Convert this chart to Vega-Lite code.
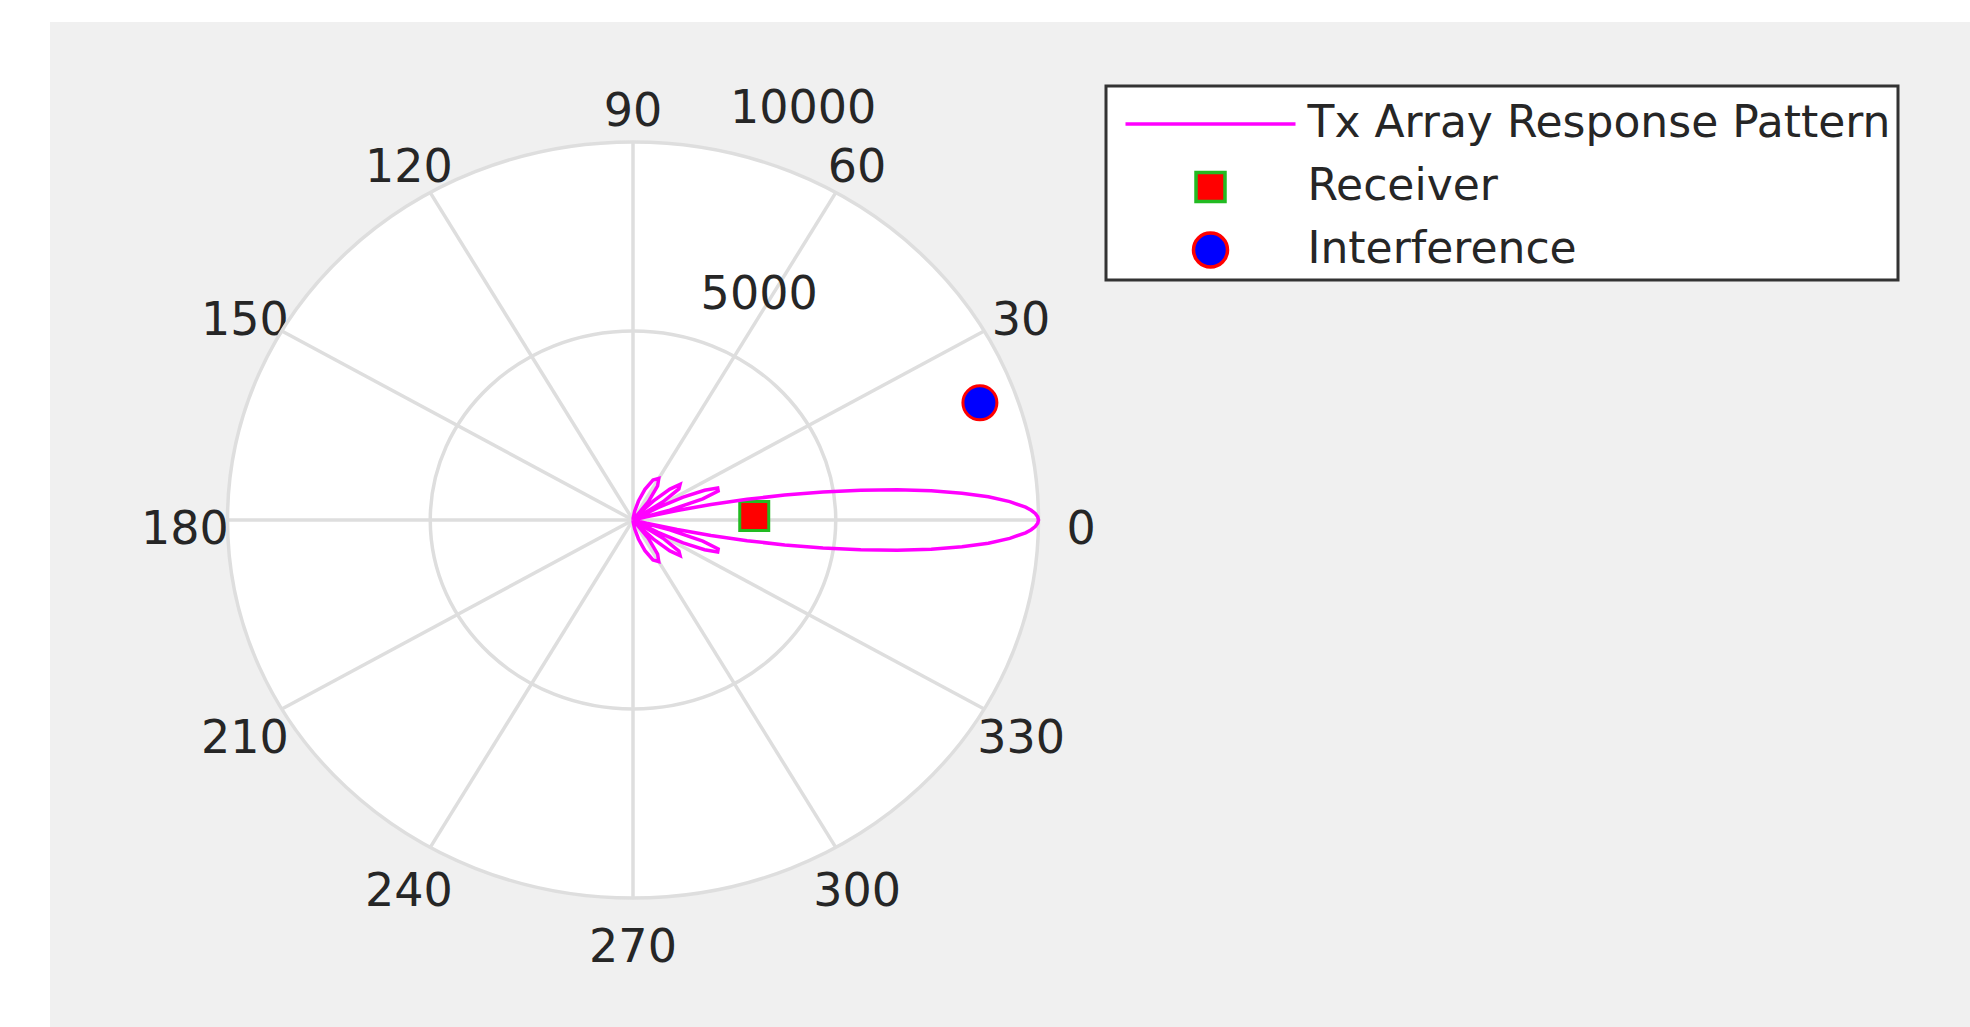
{
  "$schema": "https://vega.github.io/schema/vega-lite/v6.json",
  "width": 1920,
  "height": 1005,
  "autosize": {"type": "none"},
  "padding": {"left": 50, "top": 22, "right": 0, "bottom": 0},
  "background": "#ffffff",
  "view": {"fill": "#f0f0f0", "stroke": null},
  "config": {
    "font": "DejaVu Sans",
    "legend": {
      "orient": "none",
      "legendX": 1056,
      "legendY": 64,
      "padding": 7,
      "titleFontSize": 1,
      "titlePadding": 7,
      "titleColor": "#ffffff",
      "strokeColor": "#333333",
      "strokeWidth": 3,
      "fillColor": "#ffffff",
      "cornerRadius": 0,
      "labelFont": "DejaVu Sans",
      "labelFontSize": 44,
      "labelColor": "#262626",
      "labelLimit": 1000,
      "labelOffset": 10,
      "symbolOffset": 10.5,
      "clipHeight": 46,
      "rowPadding": 17,
      "symbolStrokeWidth": 3.5,
      "symbolOpacity": 1
    }
  },
  "datasets": {
    "pattern": [
      {"theta": -90, "x": 0, "y": 0},
      {"theta": -85, "x": 5, "y": -62},
      {"theta": -80, "x": 41, "y": -233},
      {"theta": -75, "x": 135, "y": -502},
      {"theta": -70, "x": 295, "y": -811},
      {"theta": -65, "x": 493, "y": -1058},
      {"theta": -60, "x": 635, "y": -1100},
      {"theta": -56, "x": 607, "y": -900},
      {"theta": -52, "x": 374, "y": -479},
      {"theta": -48.59, "x": 0, "y": 0},
      {"theta": -47, "x": 217, "y": -233},
      {"theta": -45, "x": 506, "y": -506},
      {"theta": -42, "x": 910, "y": -819},
      {"theta": -39, "x": 1161, "y": -940},
      {"theta": -36, "x": 1132, "y": -822},
      {"theta": -33, "x": 739, "y": -480},
      {"theta": -30, "x": 0, "y": 0},
      {"theta": -28, "x": 615, "y": -327},
      {"theta": -26, "x": 1237, "y": -603},
      {"theta": -24, "x": 1765, "y": -786},
      {"theta": -22, "x": 2088, "y": -844},
      {"theta": -20, "x": 2101, "y": -765},
      {"theta": -18, "x": 1721, "y": -559},
      {"theta": -16, "x": 906, "y": -260},
      {"theta": -14.48, "x": 0, "y": 0},
      {"theta": -14, "x": 332, "y": -83},
      {"theta": -13, "x": 1089, "y": -251},
      {"theta": -12, "x": 1923, "y": -409},
      {"theta": -11, "x": 2814, "y": -547},
      {"theta": -10, "x": 3742, "y": -660},
      {"theta": -9, "x": 4685, "y": -742},
      {"theta": -8, "x": 5617, "y": -789},
      {"theta": -7, "x": 6516, "y": -800},
      {"theta": -6, "x": 7355, "y": -773},
      {"theta": -5, "x": 8112, "y": -710},
      {"theta": -4, "x": 8764, "y": -613},
      {"theta": -3, "x": 9292, "y": -487},
      {"theta": -2, "x": 9681, "y": -338},
      {"theta": -1.5, "x": 9820, "y": -257},
      {"theta": -1, "x": 9920, "y": -173},
      {"theta": -0.5, "x": 9980, "y": -87},
      {"theta": 0, "x": 10000, "y": 0},
      {"theta": 0.5, "x": 9980, "y": 87},
      {"theta": 1, "x": 9920, "y": 173},
      {"theta": 1.5, "x": 9820, "y": 257},
      {"theta": 2, "x": 9681, "y": 338},
      {"theta": 3, "x": 9292, "y": 487},
      {"theta": 4, "x": 8764, "y": 613},
      {"theta": 5, "x": 8112, "y": 710},
      {"theta": 6, "x": 7355, "y": 773},
      {"theta": 7, "x": 6516, "y": 800},
      {"theta": 8, "x": 5617, "y": 789},
      {"theta": 9, "x": 4685, "y": 742},
      {"theta": 10, "x": 3742, "y": 660},
      {"theta": 11, "x": 2814, "y": 547},
      {"theta": 12, "x": 1923, "y": 409},
      {"theta": 13, "x": 1089, "y": 251},
      {"theta": 14, "x": 332, "y": 83},
      {"theta": 14.48, "x": 0, "y": 0},
      {"theta": 16, "x": 906, "y": 260},
      {"theta": 18, "x": 1721, "y": 559},
      {"theta": 20, "x": 2101, "y": 765},
      {"theta": 22, "x": 2088, "y": 844},
      {"theta": 24, "x": 1765, "y": 786},
      {"theta": 26, "x": 1237, "y": 603},
      {"theta": 28, "x": 615, "y": 327},
      {"theta": 30, "x": 0, "y": 0},
      {"theta": 33, "x": 739, "y": 480},
      {"theta": 36, "x": 1132, "y": 822},
      {"theta": 39, "x": 1161, "y": 940},
      {"theta": 42, "x": 910, "y": 819},
      {"theta": 45, "x": 506, "y": 506},
      {"theta": 47, "x": 217, "y": 233},
      {"theta": 48.59, "x": 0, "y": 0},
      {"theta": 52, "x": 374, "y": 479},
      {"theta": 56, "x": 607, "y": 900},
      {"theta": 60, "x": 635, "y": 1100},
      {"theta": 65, "x": 493, "y": 1058},
      {"theta": 70, "x": 295, "y": 811},
      {"theta": 75, "x": 135, "y": 502},
      {"theta": 80, "x": 41, "y": 233},
      {"theta": 85, "x": 5, "y": 62},
      {"theta": 90, "x": 0, "y": 0}
    ],
    "markers": [
      {"series": "Receiver", "x": 2990, "y": 105},
      {"series": "Interference", "x": 8555, "y": 3100}
    ],
    "spokes": [
      {"x": 10000, "y": 0, "x2": -10000, "y2": 0},
      {"x": 8660, "y": 5000, "x2": -8660, "y2": -5000},
      {"x": 5000, "y": 8660, "x2": -5000, "y2": -8660},
      {"x": 0, "y": 10000, "x2": 0, "y2": -10000},
      {"x": -5000, "y": 8660, "x2": 5000, "y2": -8660},
      {"x": -8660, "y": 5000, "x2": 8660, "y2": -5000}
    ],
    "angleLabels": [
      {"label": "0", "x": 11050, "y": 0},
      {"label": "30", "x": 9570, "y": 5525},
      {"label": "60", "x": 5525, "y": 9570},
      {"label": "90", "x": 0, "y": 11050},
      {"label": "120", "x": -5525, "y": 9570},
      {"label": "150", "x": -9570, "y": 5525},
      {"label": "180", "x": -11050, "y": 0},
      {"label": "210", "x": -9570, "y": -5525},
      {"label": "240", "x": -5525, "y": -9570},
      {"label": "270", "x": 0, "y": -11050},
      {"label": "300", "x": 5525, "y": -9570},
      {"label": "330", "x": 9570, "y": -5525}
    ],
    "radialLabels": [
      {"label": "5000", "x": 3111, "y": 6220},
      {"label": "10000", "x": 4197, "y": 11140}
    ]
  },
  "layer": [
    {
      "data": {"name": "angleLabels"},
      "mark": {"type": "text", "font": "DejaVu Sans", "fontSize": 46, "color": "#262626", "align": "center", "baseline": "middle", "dy": 10},
      "encoding": {
        "x": {"field": "x", "type": "quantitative", "scale": {"domain": [-10000, 10000], "range": [177.5, 988.5], "nice": false, "zero": false}, "axis": null},
        "y": {"field": "y", "type": "quantitative", "scale": {"domain": [-10000, 10000], "range": [876, 120], "nice": false, "zero": false}, "axis": null},
        "text": {"field": "label"}
      }
    },
    {
      "data": {"values": [{"x": 0, "y": 0}]},
      "mark": {"type": "point", "shape": "M -1 0 A 1 0.9322 0 1 0 1 0 A 1 0.9322 0 1 0 -1 0 Z", "size": 657721, "filled": true, "fill": "#ffffff", "stroke": "#dedede", "strokeWidth": 3.5, "opacity": 1},
      "encoding": {
        "x": {"field": "x", "type": "quantitative"},
        "y": {"field": "y", "type": "quantitative"}
      }
    },
    {
      "data": {"values": [{"x": 0, "y": 0}]},
      "mark": {"type": "point", "shape": "M -1 0 A 1 0.9322 0 1 0 1 0 A 1 0.9322 0 1 0 -1 0 Z", "size": 164430, "filled": false, "fill": null, "stroke": "#dedede", "strokeWidth": 3.5, "opacity": 1},
      "encoding": {
        "x": {"field": "x", "type": "quantitative"},
        "y": {"field": "y", "type": "quantitative"}
      }
    },
    {
      "data": {"name": "spokes"},
      "mark": {"type": "rule", "color": "#dedede", "strokeWidth": 3.5},
      "encoding": {
        "x": {"field": "x", "type": "quantitative"},
        "y": {"field": "y", "type": "quantitative"},
        "x2": {"field": "x2"},
        "y2": {"field": "y2"}
      }
    },
    {
      "data": {"name": "radialLabels"},
      "mark": {"type": "text", "font": "DejaVu Sans", "fontSize": 46, "color": "#262626", "align": "center", "baseline": "middle", "dy": 10},
      "encoding": {
        "x": {"field": "x", "type": "quantitative"},
        "y": {"field": "y", "type": "quantitative"},
        "text": {"field": "label"}
      }
    },
    {
      "data": {"name": "markers"},
      "mark": {"type": "point", "filled": true, "strokeWidth": 3, "opacity": 1},
      "encoding": {
        "x": {"field": "x", "type": "quantitative"},
        "y": {"field": "y", "type": "quantitative"},
        "fill": {"field": "series", "type": "nominal", "scale": {"domain": ["Tx Array Response Pattern", "Receiver", "Interference"], "range": ["#ff00ff", "#ff0000", "#0000ff"]}, "legend": {"title": " ", "encode": {"legend": {"update": {"strokeWidth": {"value": 3}}}, "labels": {"update": {"text": {"signal": "datum.label + '\u00a0'"}}}}}},
        "stroke": {"field": "series", "type": "nominal", "scale": {"domain": ["Tx Array Response Pattern", "Receiver", "Interference"], "range": ["#ff00ff", "#22bb22", "#ff0000"]}, "legend": {"title": " "}},
        "shape": {"field": "series", "type": "nominal", "scale": {"domain": ["Tx Array Response Pattern", "Receiver", "Interference"], "range": ["stroke", "square", "circle"]}, "legend": {"title": " "}},
        "size": {"field": "series", "type": "nominal", "scale": {"type": "ordinal", "domain": ["Tx Array Response Pattern", "Receiver", "Interference"], "range": [28900, 841, 1156]}, "legend": {"title": " "}}
      }
    },
    {
      "data": {"name": "pattern"},
      "mark": {"type": "line", "strokeWidth": 3.5, "interpolate": "linear"},
      "encoding": {
        "x": {"field": "x", "type": "quantitative"},
        "y": {"field": "y", "type": "quantitative"},
        "order": {"field": "theta", "type": "quantitative"},
        "stroke": {"datum": "Tx Array Response Pattern", "type": "nominal", "legend": {"title": " "}}
      }
    }
  ]
}
